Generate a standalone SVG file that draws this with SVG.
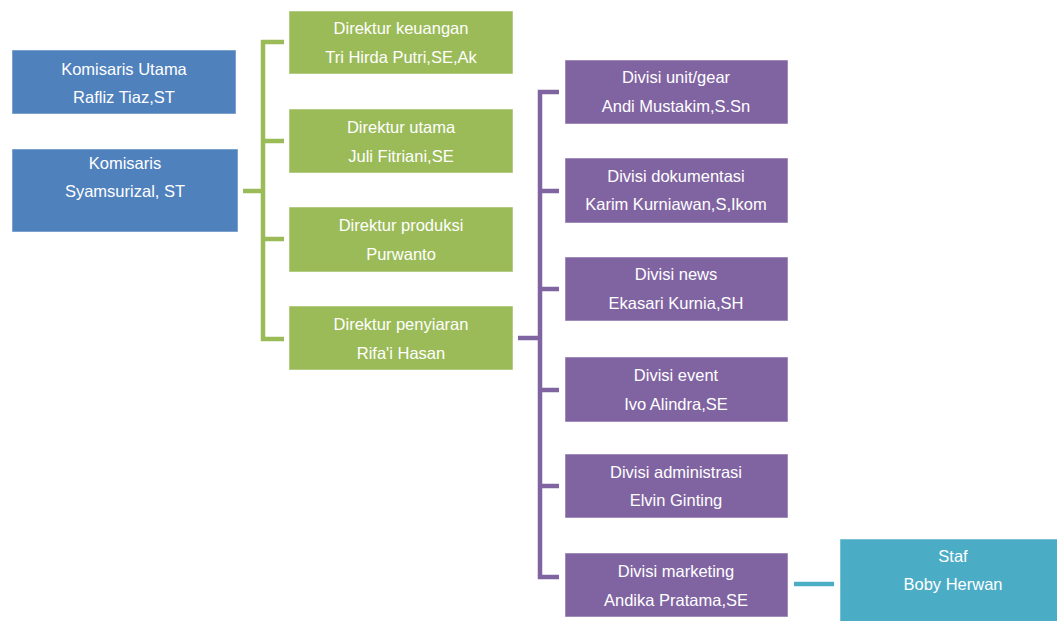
<svg xmlns="http://www.w3.org/2000/svg" width="1057" height="621" viewBox="0 0 1057 621">
<style>
text{font-family:"Liberation Sans",Arial,sans-serif;font-size:16.5px;fill:#fff;text-anchor:middle;dominant-baseline:central}
.b{fill:#4F81BD}.g{fill:#9BBB59}.p{fill:#8064A2}.t{fill:#4BACC6}
.box{stroke:#fff;stroke-opacity:0.5;stroke-width:1}
.cg{stroke:#9BBB59;stroke-width:4.5;fill:none}
.cp{stroke:#8064A2;stroke-width:4.5;fill:none}
.ct{stroke:#4BACC6;stroke-width:4.5;fill:none}
</style>
<rect width="1057" height="621" fill="#fff"/>
<g id="connectors">
<path class="cg" d="M243 191H263M284 42H263V339H284M263 141H284M263 239H284"/>
<path class="cp" d="M518 338H540M559 92H540V577H559M540 191H559M540 289H559M540 390H559M540 486H559"/>
<path class="ct" d="M794 584H834"/>
</g>
<g id="komisaris-utama"><rect class="box b" x="12" y="50" width="224" height="64"/><text x="124" y="69">Komisaris Utama</text><text x="124" y="97">Rafliz Tiaz,ST</text></g>
<g id="komisaris"><rect class="box b" x="12" y="149" width="226" height="83"/><text x="125" y="163">Komisaris</text><text x="125" y="191">Syamsurizal, ST</text></g>
<g id="dir-keuangan"><rect class="box g" x="289" y="11" width="224" height="63"/><text x="401" y="28">Direktur keuangan</text><text x="401" y="57">Tri Hirda Putri,SE,Ak</text></g>
<g id="dir-utama"><rect class="box g" x="289" y="109" width="224" height="64"/><text x="401" y="127">Direktur utama</text><text x="401" y="156">Juli Fitriani,SE</text></g>
<g id="dir-produksi"><rect class="box g" x="289" y="207" width="224" height="65"/><text x="401" y="225">Direktur produksi</text><text x="401" y="254">Purwanto</text></g>
<g id="dir-penyiaran"><rect class="box g" x="289" y="306" width="224" height="64"/><text x="401" y="324">Direktur penyiaran</text><text x="401" y="353">Rifa'i Hasan</text></g>
<g id="div-unit"><rect class="box p" x="565" y="60" width="223" height="64"/><text x="676" y="77">Divisi unit/gear</text><text x="676" y="106">Andi Mustakim,S.Sn</text></g>
<g id="div-dok"><rect class="box p" x="565" y="158" width="223" height="65"/><text x="676" y="176">Divisi dokumentasi</text><text x="676" y="204">Karim Kurniawan,S,Ikom</text></g>
<g id="div-news"><rect class="box p" x="565" y="257" width="223" height="64"/><text x="676" y="274">Divisi news</text><text x="676" y="303">Ekasari Kurnia,SH</text></g>
<g id="div-event"><rect class="box p" x="565" y="357" width="223" height="65"/><text x="676" y="375">Divisi event</text><text x="676" y="404">Ivo Alindra,SE</text></g>
<g id="div-admin"><rect class="box p" x="565" y="454" width="223" height="64"/><text x="676" y="472">Divisi administrasi</text><text x="676" y="500">Elvin Ginting</text></g>
<g id="div-marketing"><rect class="box p" x="565" y="553" width="223" height="64"/><text x="676" y="571">Divisi marketing</text><text x="676" y="600">Andika Pratama,SE</text></g>
<g id="staf"><rect class="box t" x="840" y="539" width="226" height="90"/><text x="953" y="556">Staf</text><text x="953" y="584">Boby Herwan</text></g>
</svg>
